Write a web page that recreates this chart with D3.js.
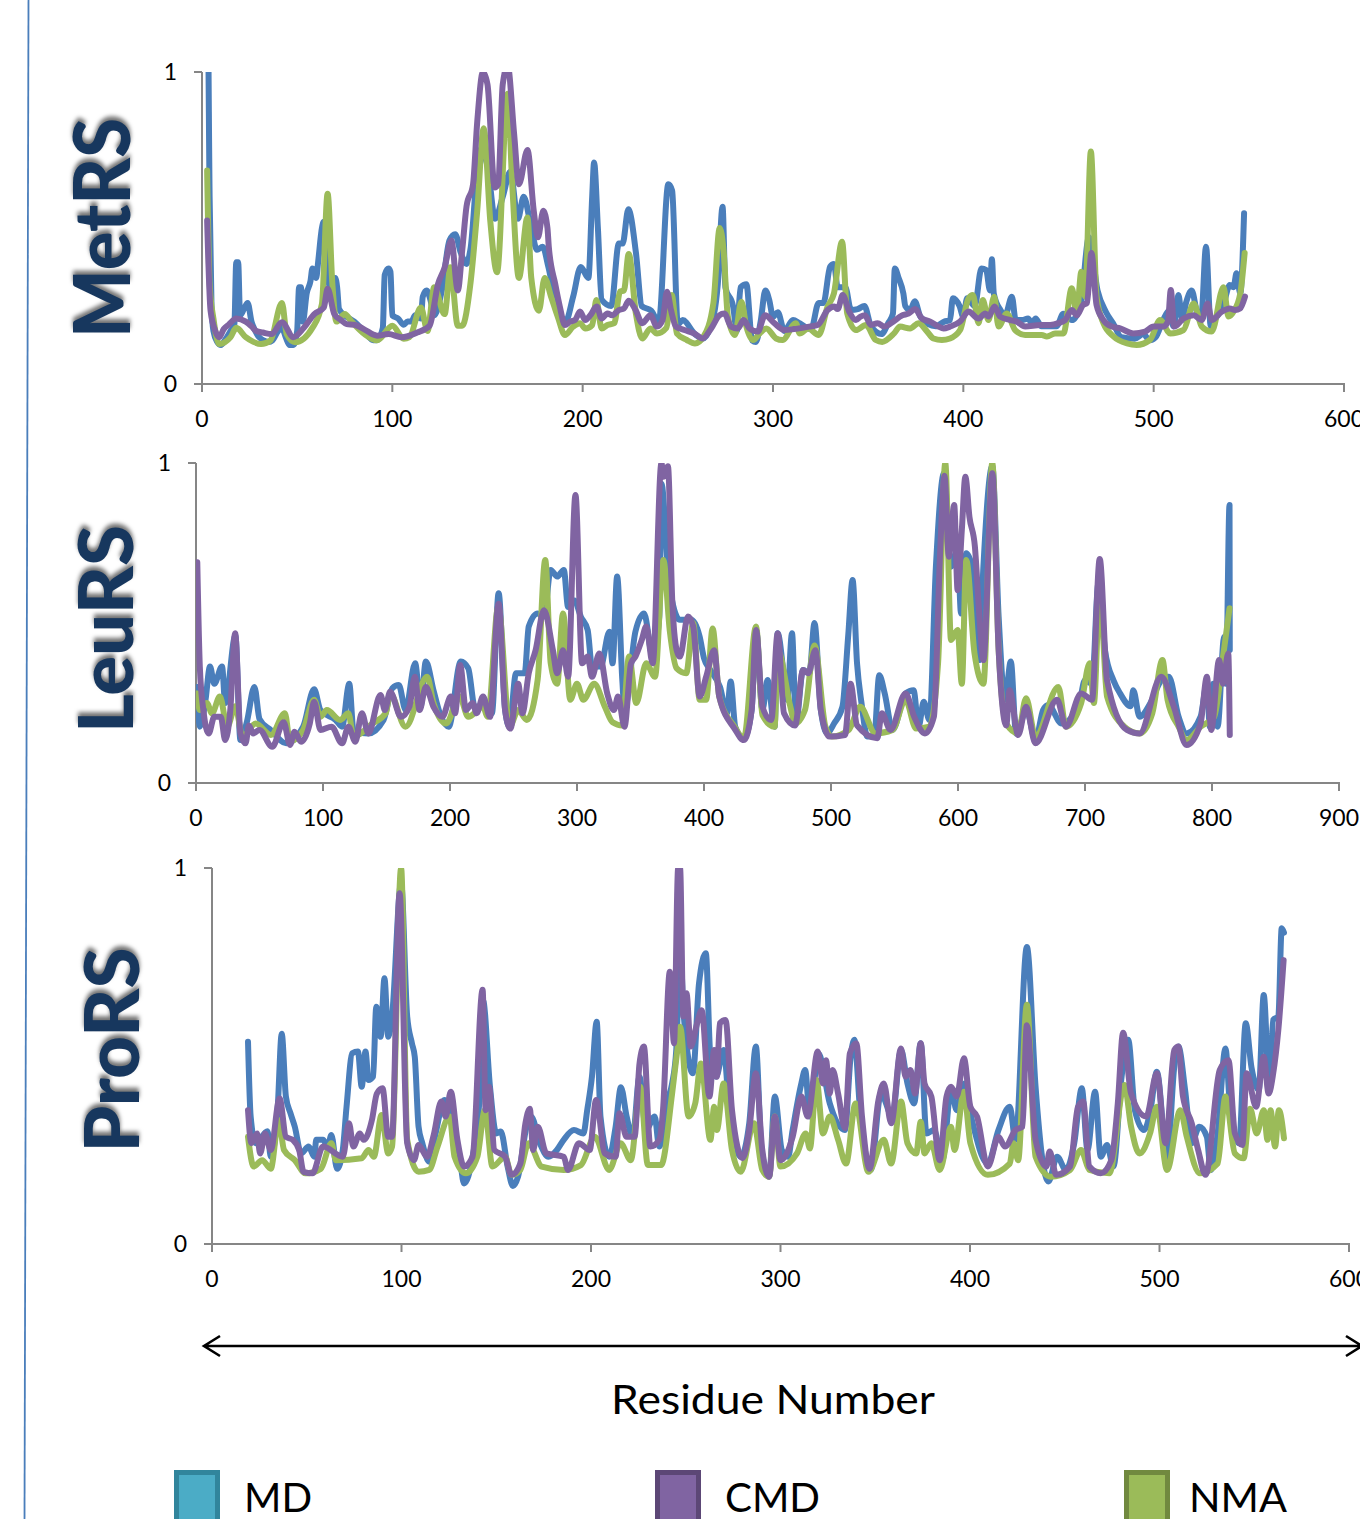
<!DOCTYPE html>
<html><head><meta charset="utf-8">
<script src="https://cdnjs.cloudflare.com/ajax/libs/d3/7.8.5/d3.min.js"></script>
<style>
html,body{margin:0;padding:0;background:#fff;overflow:hidden}
svg{display:block}
text{font-family:Lato,"Open Sans",sans-serif;fill:#000}
.tick text{font-size:23px}
.title{font-weight:900;fill:#17375e;filter:drop-shadow(4px 0 2px rgba(0,0,0,.55))}
</style></head><body><svg id="c" width="1360" height="1519"></svg>
<script>
const seriesNames=["MD","CMD","NMA"];
const residueTitle="Residue Number";
const metTicks=[0,100,200,300,400,500,600];
const leuTicks=[0,100,200,300,400,500,600,700,800,900];
const proTicks=[0,100,200,300,400,500,600];
const yTicks=[0,1];

const metMD=[[2,1.2],[3,1.2],[4,.6],[5,.25],[6,.17],[8,.135],[10,.125],[12,.14],[15,.17],[17,.19],[18,.39],[19,.39],[20,.22],[22,.24],[24,.26],[26,.2],[28,.17],[30,.15],[35,.135],[37,.14],[40,.17],[42,.18],[44,.15],[46,.125],[48,.125],[50,.17],[51,.31],[52,.31],[53,.2],[55,.29],[57,.33],[58,.37],[60,.34],[61,.39],[63,.5],[64,.52],[66,.35],[68,.3],[70,.34],[71,.31],[72,.24],[75,.22],[80,.2],[85,.17],[90,.14],[92,.14],[95,.18],[96,.35],[98,.37],[99,.36],[100,.22],[103,.21],[106,.19],[108,.2],[110,.2],[112,.22],[115,.21],[116,.28],[118,.3],[120,.27],[122,.22],[126,.3],[130,.46],[133,.48],[136,.42],[139,.385],[141,.43],[146,.75],[150,.7],[154,.53],[158,.6],[162,.68],[166,.53],[169,.6],[173,.5],[176,.43],[179,.44],[182,.375],[188,.21],[191,.2],[195,.28],[199,.375],[203,.34],[205,.6],[206,.71],[208,.5],[210,.27],[215,.25],[219,.45],[221,.45],[224,.56],[228,.42],[231,.25],[236,.235],[240,.2],[245,.64],[247,.62],[250,.19],[252.5,.205],[259,.16],[263,.145],[267,.18],[271,.32],[273.5,.568],[275,.31],[279,.25],[281,.17],[283,.31],[286,.32],[289,.14],[291,.135],[293.5,.2],[296,.3],[298,.27],[300,.215],[302.5,.23],[306,.17],[310.5,.205],[314,.195],[320,.175],[324,.26],[326.5,.26],[330,.376],[332,.385],[334,.31],[338,.31],[341,.237],[344.5,.24],[348,.25],[351.5,.185],[357,.16],[360.5,.195],[363,.225],[364,.37],[366,.34],[368.5,.29],[369.5,.25],[372,.237],[374.5,.265],[377.5,.215],[385.5,.185],[390,.2],[393,.205],[394.5,.275],[398,.25],[400,.215],[402,.275],[406,.25],[409.5,.37],[412,.365],[414,.3],[415,.4],[416,.29],[419.5,.237],[422,.22],[425.5,.28],[427.5,.205],[431,.205],[434,.21],[436,.195],[438,.21],[441,.185],[449,.185],[452.5,.225],[457,.205],[461.5,.25],[466,.47],[470.5,.3],[475,.23],[478.6,.195],[483,.15],[490,.145],[494.5,.16],[498,.14],[501,.15],[505,.205],[508,.235],[510.5,.185],[513,.285],[515,.205],[517,.26],[520,.3],[523,.225],[525,.215],[527.5,.44],[530,.185],[533,.215],[536.5,.25],[540,.317],[542,.31],[543.5,.355],[545.5,.29],[547.5,.547]];
const metCMD=[[2.7,.524],[4.5,.235],[7,.17],[9,.15],[11.4,.176],[14,.19],[18,.21],[23,.2],[26,.185],[28.5,.17],[32,.165],[36.5,.16],[42,.198],[48,.15],[53.5,.18],[59,.224],[64,.245],[66,.305],[69.5,.224],[73,.205],[76,.192],[80,.19],[85,.176],[92,.155],[98,.16],[104.8,.15],[113,.165],[119.6,.187],[124,.32],[127.5,.374],[131,.46],[134.4,.3],[136.7,.427],[139,.57],[142.4,.64],[144.6,.84],[147.6,1.0],[150,.96],[153.8,.63],[155.6,.64],[158,.96],[160.6,1.02],[164,.8],[166.5,.64],[171,.75],[174.3,.555],[176.5,.47],[179.3,.555],[181.5,.5],[182.2,.44],[185.6,.32],[188,.248],[190.7,.189],[193.4,.2],[196,.205],[198.6,.232],[201.4,.205],[204,.22],[207.4,.248],[210,.21],[213,.226],[215.5,.22],[219,.237],[221.7,.242],[224.2,.267],[227.8,.237],[231.3,.195],[235.6,.22],[239,.184],[242,.205],[244.3,.296],[246.4,.237],[249,.184],[253.4,.173],[258.6,.162],[263,.146],[267.5,.178],[271.8,.22],[274.4,.226],[278,.184],[281.5,.178],[284.6,.205],[287.6,.178],[292,.168],[295.8,.22],[300.7,.195],[306,.173],[311,.176],[319,.184],[323.5,.189],[328.7,.237],[332.2,.248],[334,.24],[336.6,.285],[340,.232],[343.6,.205],[346,.216],[348.3,.22],[351.4,.189],[355,.195],[358.4,.184],[362,.195],[368,.22],[371.2,.226],[374.7,.24],[378.2,.21],[382.6,.2],[387,.184],[389.6,.178],[393,.184],[398.3,.2],[402.7,.232],[408,.21],[411.5,.226],[413.2,.216],[416.4,.248],[419.3,.216],[424.6,.205],[428,.2],[432.5,.184],[440.4,.189],[445.6,.189],[450,.195],[453.5,.205],[457,.237],[459.6,.22],[462.8,.253],[465,.26],[467.3,.42],[470,.253],[473.6,.205],[478,.184],[482.4,.178],[489.4,.162],[495.5,.168],[500,.184],[505,.184],[507.5,.2],[509,.301],[510.8,.184],[515.7,.21],[521,.22],[525.3,.205],[528.3,.258],[530.5,.205],[535.8,.232],[540,.242],[542.8,.237],[545.4,.242],[548,.28]];
const metNMA=[[2.7,.684],[4,.32],[6,.21],[9,.128],[15,.15],[18,.18],[23,.15],[27,.135],[31,.128],[36,.14],[42,.26],[44.5,.16],[49,.134],[58,.18],[63,.256],[66,.61],[68.5,.32],[70.6,.2],[75,.224],[78.6,.2],[85.4,.16],[92,.14],[100,.187],[106,.145],[109,.15],[115,.245],[118.5,.17],[122,.31],[127.5,.224],[130.5,.374],[134.4,.187],[136.7,.187],[141,.32],[144.6,.555],[148,.82],[151.5,.52],[155,.358],[160.6,.93],[163,.64],[166.5,.34],[171,.534],[173,.34],[177,.235],[180,.34],[183.5,.278],[187,.214],[190.7,.157],[195,.184],[198.6,.195],[201.4,.178],[205,.189],[207.2,.269],[210,.178],[213,.189],[216.6,.195],[219.6,.296],[221.7,.3],[224.2,.417],[228,.224],[231.3,.146],[235.6,.178],[239,.162],[244,.18],[246.8,.285],[249.5,.162],[254.7,.141],[259,.13],[263.5,.152],[268.7,.26],[272,.5],[274,.43],[276.3,.216],[280,.157],[283.4,.264],[286,.184],[289.5,.141],[293,.162],[296.5,.178],[301.6,.146],[305,.141],[312,.195],[314,.162],[318.5,.178],[324,.157],[328.7,.248],[332,.29],[336.3,.456],[339,.226],[343.6,.173],[348.8,.189],[354,.141],[357.4,.135],[363.6,.162],[366.8,.184],[372,.178],[376.5,.195],[381,.168],[384.3,.146],[388.7,.141],[393,.146],[398.3,.173],[402.7,.274],[405,.285],[408,.195],[410.2,.269],[413.2,.205],[416.2,.28],[418.5,.184],[422.8,.226],[427.2,.173],[432.5,.157],[436,.157],[441.2,.157],[443.9,.152],[448.2,.162],[452.6,.162],[457,.307],[459.6,.226],[462,.36],[464,.28],[467,.745],[470,.28],[473.6,.195],[479,.152],[486,.13],[491,.125],[498,.141],[503.4,.205],[508.7,.162],[515.7,.173],[521,.258],[525.3,.184],[530.5,.168],[536.7,.31],[539.3,.216],[542,.232],[545.5,.29],[547.8,.42]];

const leuMD=[[1,.3],[3,.176],[7.5,.26],[11,.364],[14.4,.31],[20.5,.364],[23,.25],[31,.46],[35,.134],[40,.19],[46,.3],[50,.2],[59,.165],[71,.124],[84.4,.176],[93,.293],[98,.228],[110,.197],[115,.176],[120.7,.31],[124,.165],[135.7,.155],[147.7,.197],[154.5,.296],[159.7,.306],[165,.228],[172.6,.374],[176.8,.238],[181,.38],[187,.29],[192,.218],[199,.176],[208.5,.38],[214.4,.358],[219.5,.238],[228,.238],[233,.218],[238.3,.593],[243.4,.228],[246.8,.176],[252,.343],[258.8,.343],[262,.489],[269,.53],[274,.52],[279.3,.666],[284.4,.645],[289.6,.666],[293,.55],[298,.57],[303,.52],[308.4,.478],[311.8,.364],[318.6,.364],[325.5,.473],[328,.374],[331.6,.645],[335.7,.32],[337.4,.228],[346,.473],[352.8,.53],[359.6,.395],[364.8,.52],[366.5,.936],[371.6,.666],[378.5,.52],[381,.51],[390,.51],[396.6,.457],[400,.39],[405,.353],[412.6,.3],[418,.218],[421,.317],[424.6,.176],[431.4,.14],[437.5,.228],[441,.478],[446,.228],[450,.322],[455.6,.176],[458,.468],[463,.332],[465.5,.26],[469.3,.468],[472.4,.186],[478,.353],[483,.343],[487,.5],[492,.228],[497,.155],[502.4,.186],[509,.238],[513.6,.463],[517,.634],[520.5,.374],[524,.25],[528.7,.145],[534,.145],[538,.337],[542.3,.28],[548.5,.166],[558.7,.28],[565,.29],[569,.176],[573,.254],[577.5,.197],[582.6,.676],[589,.968],[594.5,.676],[599.7,.728],[602.4,.53],[606.5,.718],[611.6,.666],[616.7,.384],[620,.676],[627,.99],[632,.52],[637,.26],[641.6,.38],[645.7,.155],[654,.228],[661,.134],[667,.228],[671,.244],[681.6,.186],[695,.24],[700,.322],[705.5,.31],[710.6,.624],[715.7,.416],[722.5,.32],[727.6,.28],[736,.24],[738,.29],[743,.207],[751.5,.25],[760,.32],[766,.332],[773.7,.207],[780,.155],[791,.207],[796,.31],[798.3,.176],[801,.31],[804.4,.176],[809.6,.457],[811,.31],[813.8,.869],[814,.416]];
const leuCMD=[[1,.69],[3,.364],[5.8,.228],[10,.155],[14.4,.207],[19.5,.207],[23,.134],[27,.228],[30.8,.468],[35,.155],[39,.124],[41.7,.18],[45,.155],[50,.166],[60,.113],[69,.19],[74,.119],[77.6,.16],[82.7,.129],[89.6,.186],[93,.254],[98,.166],[106.7,.176],[115,.124],[120,.176],[125.5,.129],[130.6,.218],[135.7,.155],[145.3,.275],[148.7,.228],[152.8,.285],[161.4,.207],[168,.238],[172.3,.332],[176,.228],[181,.3],[187,.238],[194,.207],[200.7,.27],[204,.218],[208,.369],[212.6,.228],[217.8,.25],[221,.218],[226,.27],[231.5,.207],[238.3,.56],[243.4,.228],[247.5,.17],[253.7,.31],[257,.218],[262,.343],[267.4,.415],[274,.54],[281,.415],[284.4,.343],[289,.415],[293,.332],[298.8,.9],[304,.374],[308.4,.395],[311.8,.332],[317.6,.405],[323.8,.28],[329,.228],[332.3,.27],[337.4,.176],[342.5,.374],[346,.395],[351,.447],[354.5,.489],[359.6,.374],[366.5,1.0],[368,.957],[371.6,.99],[375,.57],[378.5,.415],[381,.395],[387.4,.52],[391.5,.489],[396.6,.27],[401.7,.332],[408,.415],[412,.27],[424,.17],[431.4,.134],[437.5,.228],[441,.478],[446,.238],[453,.197],[458,.468],[463,.218],[471.7,.18],[478,.353],[482,.343],[487.7,.415],[492,.228],[499,.145],[511,.15],[515.4,.31],[520.5,.18],[536.5,.14],[540,.218],[546.8,.166],[558.7,.28],[565.5,.207],[574,.155],[581,.207],[586,.728],[589.4,.96],[592.8,.707],[597,.869],[599.7,.603],[603,.79],[605.8,.957],[609,.832],[613.3,.739],[616.7,.53],[620,.384],[627,.968],[632,.416],[638,.18],[640.6,.29],[647.4,.15],[653.6,.238],[661,.124],[678,.26],[685,.176],[697,.28],[705.5,.26],[711.6,.70],[717.4,.32],[733,.166],[743,.155],[760,.332],[770,.238],[780,.119],[791,.186],[796,.332],[799.4,.166],[805.6,.384],[808.6,.31],[812.8,.405],[814,.15]];
const leuNMA=[[1,.28],[3,.228],[8.5,.25],[12.6,.218],[18.8,.27],[24.6,.176],[31,.24],[36.6,.145],[47,.186],[59,.15],[70,.218],[74,.13],[84.4,.166],[93,.26],[98,.207],[103,.228],[113.5,.197],[120,.218],[124,.145],[139,.186],[149.4,.218],[152.8,.28],[165,.176],[182,.332],[187,.25],[197,.186],[207.5,.27],[214.4,.207],[226,.238],[229.7,.207],[238,.55],[247,.176],[253.7,.228],[260.5,.197],[269,.322],[275,.697],[279.3,.374],[284.4,.31],[289,.53],[294.7,.26],[300,.31],[305,.26],[313.5,.31],[322,.238],[328,.19],[335.7,.18],[341,.395],[346.7,.25],[354.5,.374],[361.4,.332],[368,.697],[373,.478],[378.5,.358],[386,.343],[391.5,.5],[396.6,.26],[401.7,.26],[406.8,.483],[412,.27],[424,.176],[431.4,.14],[441,.489],[446,.212],[455.6,.176],[458,.416],[468,.238],[471.7,.186],[479.5,.228],[487,.43],[495.6,.176],[500.7,.145],[514,.166],[523,.238],[535,.155],[548.5,.166],[558.7,.26],[567,.17],[577.5,.176],[584.3,.374],[590,1.0],[594.5,.447],[599.7,.478],[603,.31],[606.5,.697],[613,.405],[620,.31],[627,1.0],[632,.416],[638,.186],[647.4,.155],[653.6,.265],[661,.145],[679,.3],[685,.176],[697,.25],[703.7,.374],[707,.25],[711.6,.6],[717.4,.27],[731,.176],[743,.155],[753,.218],[761,.384],[765,.26],[773.7,.176],[780,.134],[791,.176],[801.7,.207],[808,.374],[813.8,.546]];

const proMD=[[19,.538],[20.4,.339],[23,.268],[29.3,.3],[31,.232],[34.6,.356],[36.8,.559],[39,.392],[41.4,.348],[43.7,.312],[47,.241],[51,.259],[54,.232],[55,.277],[58.6,.277],[61,.259],[63,.29],[66,.2],[69,.25],[71,.365],[74,.507],[77,.512],[79,.418],[81,.512],[82.6,.436],[85,.445],[86.7,.631],[89,.551],[91,.707],[93,.551],[95,.605],[99.8,.96],[103,.605],[105.5,.534],[107,.498],[109,.312],[111,.268],[114.6,.219],[118,.294],[122.6,.383],[126,.339],[130.7,.232],[133,.161],[137.5,.232],[141,.374],[143,.649],[146.7,.418],[150,.294],[152.4,.299],[156,.206],[158.8,.154],[161.5,.179],[166,.312],[168.4,.339],[173,.268],[177.6,.232],[182,.25],[185.6,.277],[191,.303],[196,.294],[198,.356],[200.5,.445],[203,.591],[205,.339],[209.6,.232],[213,.312],[215.8,.417],[218.8,.339],[222,.285],[225.6,.445],[229,.303],[233.6,.339],[236,.259],[240.5,.383],[242.8,.427],[245,.516],[247,.78],[249,.605],[253.8,.454],[257,.693],[260.6,.773],[263,.498],[266,.445],[270,.516],[273,.356],[279,.232],[283.5,.321],[287,.525],[290,.25],[294,.179],[297,.392],[300.7,.25],[304,.232],[306.4,.303],[311,.427],[313,.463],[315.5,.339],[320,.507],[326,.374],[334,.303],[337,.498],[339,.543],[342,.356],[347.6,.197],[353,.4],[359,.339],[363.6,.516],[367,.427],[370.5,.374],[374,.534],[377,.294],[381,.303],[385.4,.223],[390,.41],[393,.356],[397,.427],[401,.33],[409.4,.214],[415,.303],[421,.365],[424,.277],[430,.79],[434.6,.418],[438,.232],[441.4,.166],[446,.232],[450.6,.197],[455,.268],[459,.414],[462,.25],[466,.405],[469,.232],[472.3,.263],[475.7,.206],[480,.445],[483.5,.543],[487,.356],[491.8,.303],[495,.348],[498.6,.458],[504,.223],[507.8,.471],[510,.525],[513.5,.41],[517,.268],[521,.312],[525,.285],[527,.197],[530.7,.294],[534.8,.52],[537.6,.339],[542,.268],[545.5,.587],[548.5,.471],[552.4,.41],[555,.662],[558,.41],[560,.596],[562.7,.605],[564.5,.84],[565.7,.828]];
const proCMD=[[19,.356],[20.8,.268],[23.8,.294],[25.4,.241],[28,.294],[31,.25],[35.7,.387],[39,.285],[42.6,.277],[46,.25],[48.3,.192],[53,.188],[58.6,.259],[69,.232],[72.3,.321],[74.6,.259],[78,.294],[80,.277],[84.4,.33],[87,.4],[90,.414],[93,.285],[95,.285],[99,.933],[103,.268],[106.6,.223],[109,.263],[113.5,.232],[117,.29],[121,.379],[123.3,.339],[126,.405],[129.5,.277],[133,.206],[137.5,.232],[142.8,.676],[144.4,.356],[146.2,.418],[149,.25],[154.7,.232],[158,.184],[162.7,.214],[165.4,.321],[167.7,.36],[169.5,.25],[171.9,.312],[176.4,.241],[185.6,.232],[187.9,.197],[193.6,.268],[199.3,.25],[202.7,.383],[207.3,.241],[213,.232],[215,.348],[218.8,.285],[223,.285],[225.6,.48],[227.9,.525],[231.3,.259],[236,.277],[238,.356],[241.6,.724],[243.8,.534],[246,1.0],[247,1.0],[248.7,.605],[250.4,.667],[252.6,.525],[256,.587],[258.4,.622],[262.5,.392],[265,.516],[266.4,.445],[268,.587],[271,.596],[274.4,.356],[280,.228],[283.5,.303],[287,.454],[290.4,.25],[294,.179],[297,.339],[300,.223],[306.4,.285],[311,.392],[314.4,.339],[319.7,.512],[322.4,.427],[324,.489],[326,.4],[327.5,.463],[330.4,.4],[334,.308],[336.6,.507],[340,.534],[343,.339],[347,.2],[351.7,.383],[354.5,.427],[358.4,.321],[363.6,.52],[366,.445],[368.6,.463],[371,.4],[374,.534],[376,.427],[379.6,.392],[384,.223],[387.6,.392],[390,.418],[393,.392],[396.8,.494],[400.2,.365],[403.7,.339],[409.4,.206],[415,.285],[418.5,.259],[424,.303],[427.7,.312],[430,.582],[434.6,.277],[440.3,.206],[442,.246],[445.5,.184],[452.8,.206],[457,.365],[459.7,.379],[463,.206],[469,.188],[474.6,.223],[478,.374],[480.8,.562],[485,.4],[493,.339],[498.6,.454],[503.2,.268],[507.8,.516],[510,.525],[512.4,.392],[517,.321],[520.4,.25],[524.3,.184],[531.8,.463],[536.4,.489],[539.8,.294],[543.7,.263],[546,.454],[551,.365],[555,.498],[557.6,.4],[560,.454],[562.7,.569],[565.5,.755]];
const proNMA=[[19,.285],[22,.206],[26.5,.223],[31,.2],[35.2,.33],[38,.25],[43.7,.223],[49.4,.188],[57.4,.2],[63,.268],[65.4,.223],[79,.228],[82.6,.25],[85.4,.232],[89.5,.343],[93,.241],[95,.259],[99.8,1.0],[103,.277],[109,.192],[114.6,.197],[119,.259],[125.4,.339],[128,.232],[134,.188],[140,.232],[144,.356],[148,.206],[154.7,.232],[158,.184],[162.7,.197],[167,.268],[174,.206],[185.6,.197],[194.7,.21],[202,.285],[209.6,.197],[215.6,.268],[221,.223],[226,.418],[230,.21],[237,.21],[242.8,.4],[246,.534],[247,.578],[251.5,.339],[255,.374],[258,.48],[263,.277],[265,.365],[266.4,.303],[270,.427],[274.4,.25],[279,.192],[286,.321],[290.4,.197],[294,.179],[297,.339],[300,.206],[308.7,.241],[313.3,.294],[315.5,.254],[319,.436],[322.4,.294],[326,.339],[330.4,.277],[334.6,.214],[339.6,.374],[346.4,.192],[354.5,.277],[358.4,.214],[363.6,.379],[367,.268],[371.6,.241],[374,.325],[376,.241],[379.6,.268],[384,.197],[390,.312],[391.8,.25],[396.8,.405],[400.2,.268],[409.4,.184],[421,.214],[423,.268],[425.4,.223],[430,.636],[434.6,.232],[442.6,.179],[452.8,.197],[458.6,.25],[463,.197],[473.5,.188],[481.5,.423],[485,.312],[489.4,.241],[495,.294],[498.6,.365],[504,.197],[511,.356],[514.4,.285],[521.3,.188],[530.7,.214],[534.8,.392],[539.8,.241],[544.4,.228],[547.8,.36],[551.3,.294],[555,.356],[557,.277],[558.6,.356],[561,.259],[563,.356],[565.7,.281]];

const colors={MD:"#4a7ebb",CMD:"#8064a2",NMA:"#9bbb59"};
const swatch={MD:["#4bacc6","#31859c"],CMD:["#8064a2","#5c4776"],NMA:["#9bbb59","#71893f"]};
const panels=[
 {name:"MetRS",tx:130,ty:228,tl:220,fs:79,x0:202,x1:1344,xMax:600,ticks:metTicks,yTop:72,yBot:384,MD:metMD,CMD:metCMD,NMA:metNMA},
 {name:"LeuRS",tx:133,ty:629,tl:208,fs:76,x0:196,x1:1339,xMax:900,ticks:leuTicks,yTop:463,yBot:783,MD:leuMD,CMD:leuCMD,NMA:leuNMA},
 {name:"ProRS",tx:139,ty:1050,tl:205,fs:77,x0:212,x1:1349,xMax:600,ticks:proTicks,yTop:868,yBot:1244,MD:proMD,CMD:proCMD,NMA:proNMA}
];
const svg=d3.select("#c");
svg.append("line").attr("x1",28.5).attr("y1",0).attr("x2",24.5).attr("y2",1519).attr("stroke","#4a7ebb").attr("stroke-width",1.8);
const defs=svg.append("defs");
panels.forEach((p,i)=>{
  const x=d3.scaleLinear().domain([0,p.xMax]).range([p.x0,p.x1]);
  const y=d3.scaleLinear().domain([0,1]).range([p.yBot,p.yTop]);
  defs.append("clipPath").attr("id","clip"+i).append("rect")
    .attr("x",p.x0).attr("y",p.yTop).attr("width",p.x1-p.x0).attr("height",p.yBot-p.yTop);
  const gx=svg.append("g").attr("transform",`translate(0,${p.yBot})`)
    .call(d3.axisBottom(x).offset(0).tickValues(p.ticks).tickFormat(d3.format("d")).tickSize(8).tickSizeOuter(8).tickPadding(19));
  const gy=svg.append("g").attr("transform",`translate(${p.x0},0)`)
    .call(d3.axisLeft(y).offset(0).tickValues(yTicks).tickFormat(d3.format("d")).tickSize(8).tickSizeOuter(0).tickPadding(17));
  [gx,gy].forEach(g=>{g.select(".domain").attr("stroke","#868686").attr("stroke-width",2);
    g.selectAll(".tick line").attr("stroke","#868686").attr("stroke-width",2);
    g.selectAll(".tick text").attr("fill","#000");});
  gy.selectAll(".tick text").attr("y",1);
  const line=d3.line().x(d=>x(d[0])).y(d=>y(d[1])).curve(d3.curveMonotoneX);
  const plot=svg.append("g").attr("clip-path",`url(#clip${i})`);
  ["MD","NMA","CMD"].forEach(s=>{
    const pts=p[s].slice().sort((a,b)=>d3.ascending(a[0],b[0]));
    plot.append("path").attr("d",line(pts)).attr("fill","none")
      .attr("stroke",colors[s]).attr("stroke-width",6).attr("stroke-linejoin","round").attr("stroke-linecap","round");
  });
  svg.append("text").attr("class","title").attr("transform",`translate(${p.tx},${p.ty}) rotate(-90)`)
    .attr("text-anchor","middle").attr("font-size",p.fs).attr("textLength",p.tl).attr("lengthAdjust","spacingAndGlyphs").text(p.name);
});
const arrowY=1346;
svg.append("path").attr("fill","none").attr("stroke","#000").attr("stroke-width",2.6)
  .attr("d",`M204 ${arrowY}H1362M220 ${arrowY-10}L204 ${arrowY}L220 ${arrowY+10}M1346 ${arrowY-10}L1362 ${arrowY}L1346 ${arrowY+10}`);
svg.append("text").attr("x",773).attr("y",1414).attr("text-anchor","middle").attr("font-size",41)
  .attr("textLength",324).attr("lengthAdjust","spacingAndGlyphs").text(residueTitle);
const legend={MD:[174,244,68],CMD:[655,725,95],NMA:[1124,1189,98]};
seriesNames.forEach(s=>{
  const [sx,tx,tw]=legend[s];
  svg.append("rect").attr("x",sx+2.5).attr("y",1472.5).attr("width",41).attr("height",60)
    .attr("fill",swatch[s][0]).attr("stroke",swatch[s][1]).attr("stroke-width",5);
  svg.append("text").attr("x",tx).attr("y",1512).attr("font-size",41)
    .attr("textLength",tw).attr("lengthAdjust","spacingAndGlyphs").text(s);
});
</script></body></html>
